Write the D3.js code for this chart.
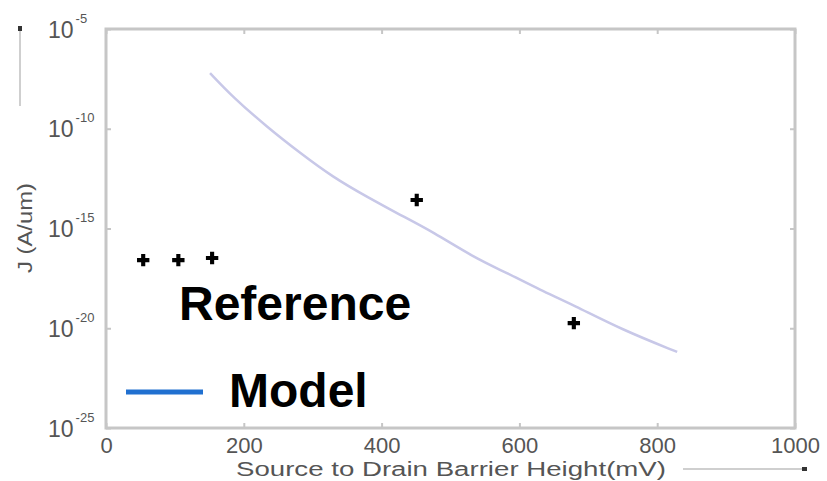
<!DOCTYPE html>
<html>
<head>
<meta charset="utf-8">
<script src="https://cdn.jsdelivr.net/npm/d3@7"></script>
<style>
  body { margin: 0; background: #fff; }
  svg { display: block; font-family: "Liberation Sans", Arial, sans-serif; }
</style>
</head>
<body>
<div id="chart"></div>
<script>
// Reference points (barrier height in mV, current density in A/um)
const refX = [54, 105, 154, 451, 679];
const refJ = [2.6e-17, 2.6e-17, 3.3e-17, 2.7e-14, 1.8e-20];

// Model curve
const modelX = [151, 184, 234, 282, 329, 379, 427, 475, 533, 582, 630, 678, 750, 829];
const modelJ = [6.2e-8, 3.9e-9, 1.2e-10, 6.0e-12, 3.8e-13, 3.8e-14, 4.8e-15, 6.6e-16,
    3.7e-17, 5.9e-18, 8.3e-19, 1.5e-19, 8.1e-21, 6.5e-22];

// Axis ticks
const xTicks = [0, 200, 400, 600, 800, 1000];
const yTicks = [1e-5, 1e-10, 1e-15, 1e-20, 1e-25];
const yExp = ["-5", "-10", "-15", "-20", "-25"];

const W = 827, H = 481;
const plot = { left: 106, right: 795, top: 29, bottom: 428 };

const svg = d3.select("#chart").append("svg")
    .attr("width", W)
    .attr("height", H);

const x = d3.scaleLinear().domain([0, 1000]).range([plot.left, plot.right]);
const y = d3.scaleLog().domain([1e-25, 1e-5]).range([plot.bottom, plot.top]);

const axisColor = "#c6c6c6";
const textColor = "#555";

// Plot box
svg.append("rect")
    .attr("x", plot.left).attr("y", plot.top)
    .attr("width", plot.right - plot.left).attr("height", plot.bottom - plot.top)
    .attr("fill", "none")
    .attr("stroke", axisColor)
    .attr("stroke-width", 3);

// Bottom axis with labels
const gx = svg.append("g")
    .attr("transform", `translate(0,${plot.bottom})`)
    .call(d3.axisBottom(x).tickValues(xTicks).tickSize(-5).tickFormat(d3.format("d")));
gx.select(".domain").remove();
gx.selectAll(".tick line").attr("stroke", axisColor).attr("stroke-width", 2);
gx.selectAll(".tick text")
    .attr("y", 25).attr("dy", null)
    .attr("fill", textColor)
    .style("font-size", "22px");

// Top axis ticks only
const gxt = svg.append("g")
    .attr("transform", `translate(0,${plot.top})`)
    .call(d3.axisTop(x).tickValues(xTicks).tickSize(-5).tickFormat(""));
gxt.select(".domain").remove();
gxt.selectAll(".tick line").attr("stroke", axisColor).attr("stroke-width", 2);

// Left axis with 10^n labels
const gy = svg.append("g")
    .attr("transform", `translate(${plot.left},0)`)
    .call(d3.axisLeft(y).tickValues(yTicks).tickSize(-5).tickFormat(""));
gy.select(".domain").remove();
gy.selectAll(".tick line").attr("stroke", axisColor).attr("stroke-width", 2);
gy.selectAll(".tick text").each(function (d, i) {
    const t = d3.select(this)
        .attr("x", -58).attr("y", 8).attr("dy", null)
        .attr("text-anchor", "start")
        .attr("fill", textColor)
        .style("font-size", "23px");
    t.append("tspan").text("10");
    t.append("tspan")
        .attr("dx", 2).attr("dy", -15)
        .style("font-size", "13px")
        .text(yExp[i]);
});

// Right axis ticks only
const gyr = svg.append("g")
    .attr("transform", `translate(${plot.right},0)`)
    .call(d3.axisRight(y).tickValues(yTicks).tickSize(-5).tickFormat(""));
gyr.select(".domain").remove();
gyr.selectAll(".tick line").attr("stroke", axisColor).attr("stroke-width", 2);

// Axis titles
svg.append("text")
    .attr("x", 451).attr("y", 476)
    .attr("text-anchor", "middle")
    .attr("textLength", 430)
    .attr("lengthAdjust", "spacingAndGlyphs")
    .attr("fill", textColor)
    .style("font-size", "20px")
    .text("Source to Drain Barrier Height(mV)");

svg.append("text")
    .attr("transform", "translate(32,228) rotate(-90)")
    .attr("text-anchor", "middle")
    .attr("textLength", 90)
    .attr("lengthAdjust", "spacingAndGlyphs")
    .attr("fill", textColor)
    .style("font-size", "21px")
    .text("J (A/um)");

// Little arrow marks beside the titles
svg.append("line")
    .attr("x1", 20).attr("x2", 20).attr("y1", 28).attr("y2", 106)
    .attr("stroke", "#cfcfcf").attr("stroke-width", 2);
svg.append("rect")
    .attr("x", 18).attr("y", 26).attr("width", 4).attr("height", 5)
    .attr("fill", "#333");
svg.append("line")
    .attr("x1", 683).attr("x2", 806).attr("y1", 469).attr("y2", 469)
    .attr("stroke", "#cfcfcf").attr("stroke-width", 2);
svg.append("rect")
    .attr("x", 802).attr("y", 467).attr("width", 5).attr("height", 4)
    .attr("fill", "#333");

// Model curve
const modelData = modelX.map((v, i) => ({ x: v, j: modelJ[i] }));
svg.append("path")
    .datum(modelData)
    .attr("fill", "none")
    .attr("stroke", "#c8c8e8")
    .attr("stroke-width", 2.5)
    .attr("d", d3.line()
        .x((d) => x(d.x))
        .y((d) => y(d.j))
        .curve(d3.curveBasis));

// Reference points
const refData = refX.map((v, i) => ({ x: v, j: refJ[i] }));
svg.selectAll(".ref")
    .data(refData)
    .enter()
    .append("path")
    .attr("class", "ref")
    .attr("transform", (d) => `translate(${x(d.x)},${y(d.j)})`)
    .attr("d", d3.symbol(d3.symbolCross, 85))
    .attr("fill", "#000");

// Legend
svg.append("text")
    .attr("x", 179).attr("y", 320)
    .attr("fill", "#000")
    .style("font-size", "48px")
    .style("font-weight", "bold")
    .text("Reference");

svg.append("line")
    .attr("x1", 126).attr("x2", 203).attr("y1", 392).attr("y2", 392)
    .attr("stroke", "#2070d0")
    .attr("stroke-width", 5);

svg.append("text")
    .attr("x", 229).attr("y", 407)
    .attr("fill", "#000")
    .style("font-size", "48px")
    .style("font-weight", "bold")
    .text("Model");
</script>
</body>
</html>
